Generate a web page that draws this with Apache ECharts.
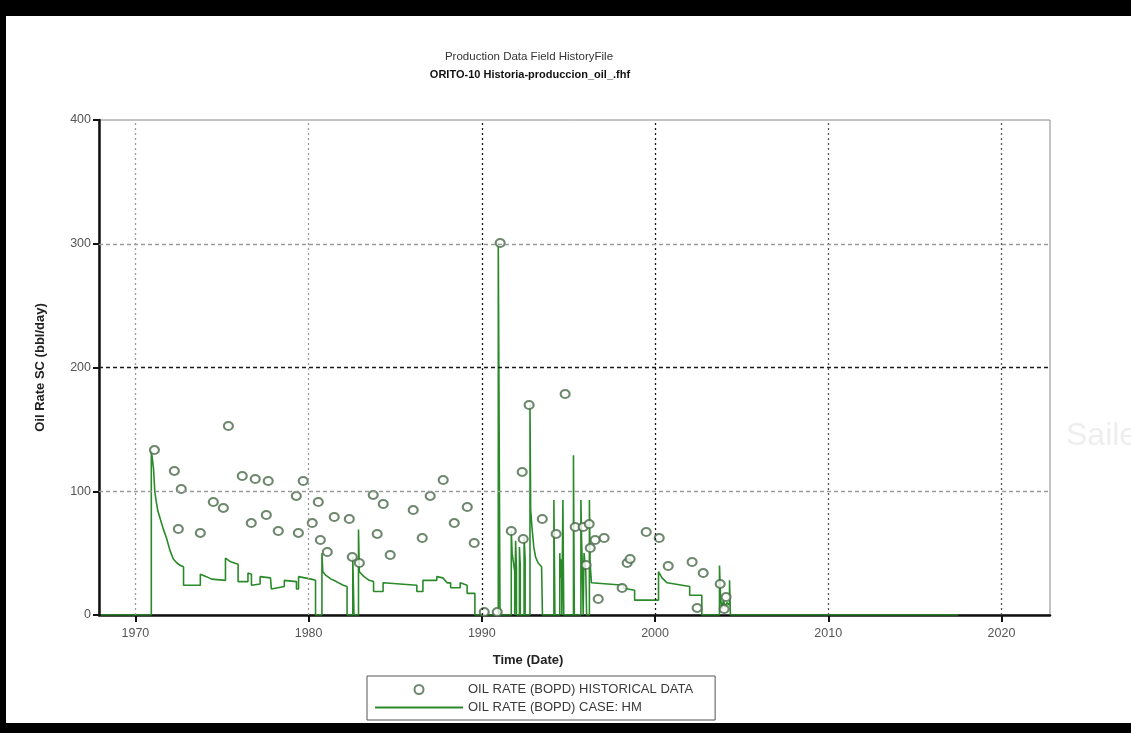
<!DOCTYPE html>
<html>
<head>
<meta charset="utf-8">
<script src="https://cdn.jsdelivr.net/npm/echarts@6/dist/echarts.min.js"></script>
<style>html,body{margin:0;padding:0;background:#fff;}#c{width:1131px;height:733px;}</style>
</head>
<body>
<div id="c"></div>
<script>
// ---- data ----
const xTickValues = [1970, 1980, 1990, 2000, 2010, 2020];
const yGridValues = [100, 200, 300];

const histYears = [1971.1,1972.25,1972.65,1972.48,1973.75,1974.5,1975.08,1975.37,1976.17,1976.92,1977.67,1976.69,1977.56,1978.25,1979.29,1979.69,1979.41,1980.56,1980.21,1980.68,1981.08,1981.48,1982.35,1982.52,1982.93,1983.73,1984.31,1983.96,1984.71,1986.04,1986.56,1987.02,1987.77,1988.41,1989.16,1989.56,1990.14,1990.89,1991.06,1991.7,1992.33,1992.73,1992.39,1993.49,1994.81,1994.29,1995.39,1995.85,1996.2,1996.54,1997.06,1996.26,1996.02,1996.72,1998.1,1998.39,1998.56,1999.49,2000.24,2000.76,2002.14,2002.78,2002.43,2003.76,2004.1,2003.99];
const histRates = [133.3,116.4,101.8,69.5,66.3,91.3,86.5,152.7,112.3,109.9,108.3,74.3,80.8,67.9,96.2,108.3,66.3,91.3,74.3,60.6,50.9,79.2,77.6,46.9,42.0,97.0,89.7,65.5,48.5,84.8,62.2,96.2,109.1,74.3,87.3,58.2,2.4,2.4,300.6,67.9,115.6,169.7,61.4,77.6,178.6,65.5,71.1,71.1,73.5,60.6,62.2,54.1,40.4,12.9,21.8,42.0,45.3,67.1,62.2,39.6,42.8,33.9,5.7,25.1,14.5,4.8];

const simYears = [1968,1970.92,1970.92,1971.02,1971.05,1971.12,1971.2,1971.3,1971.45,1971.6,1971.8,1972.0,1972.2,1972.4,1972.6,1972.78,1972.78,1973.75,1973.75,1974.1,1974.4,1975.2,1975.2,1975.5,1975.93,1975.93,1976.5,1976.5,1976.7,1976.7,1977.2,1977.2,1977.8,1977.85,1978.6,1978.6,1979.3,1979.3,1979.42,1979.42,1980.15,1980.4,1980.4,1980.77,1980.77,1980.82,1980.82,1981.0,1981.3,1981.6,1982.0,1982.22,1982.22,1982.55,1982.55,1982.62,1982.62,1982.88,1982.88,1982.93,1982.93,1983.2,1983.5,1983.75,1983.75,1984.3,1984.3,1986.25,1986.25,1986.6,1986.6,1987.4,1987.4,1987.75,1988.0,1988.2,1988.2,1988.75,1988.75,1989.15,1989.15,1989.6,1989.6,1990.95,1990.95,1991.05,1991.05,1991.7,1991.7,1991.75,1991.85,1991.9,1991.9,1991.95,1991.95,1992.0,1992.0,1992.17,1992.17,1992.22,1992.22,1992.44,1992.44,1992.5,1992.5,1992.78,1992.78,1992.82,1992.9,1993.0,1993.1,1993.25,1993.45,1993.5,1993.5,1994.16,1994.16,1994.22,1994.22,1994.5,1994.5,1994.55,1994.6,1994.62,1994.62,1994.68,1994.68,1994.73,1994.73,1995.29,1995.29,1995.34,1995.34,1995.72,1995.72,1995.76,1995.8,1995.85,1995.85,1995.9,1995.9,1996.0,1996.05,1996.05,1996.21,1996.21,1996.25,1996.33,1998.2,1998.2,1998.82,1998.82,2000.2,2000.2,2000.4,2000.7,2002.0,2002.0,2002.7,2002.7,2003.72,2003.72,2003.78,2003.85,2003.95,2004.05,2004.15,2004.3,2004.3,2004.35,2004.35,2017.5];
const simRates = [0,0,133,133,118,100,92,84,77,70,62,52,45,42,40,39,24,24,33,31,29,28,46,43,41,27,27,34,33,24,25,31,30,21,23,28,27,21,21,31,29,28,0,0,50,50,35,32,29,27,24,23,0,0,47,47,0,0,69,69,35,31,28,27,19,19,26,24,19,19,28,28,31,30,26,26,22,22,26,24,17.5,17.5,0,0,301,301,0,0,68,50,40,35,0,0,60,38,0,0,55,40,0,0,63,45,0,0,170,85,70,55,47,42,39,39,0,0,93,93,0,0,50,30,45,45,0,0,93,93,0,0,129,129,0,0,93,60,40,40,0,0,50,35,35,0,0,93,42,26,24,21.6,20,12,12,35,30,26,23,16,16,0,0,40,15,5,12,6,10,8,28,28,0,0];

const histName = 'OIL RATE (BOPD) HISTORICAL DATA';
const simName = 'OIL RATE (BOPD) CASE: HM';

// ---- build ----
const histData = histYears.map((y, i) => [y, histRates[i]]);
const simData = simYears.map((y, i) => [y, simRates[i]]);

function xGridColor(v) {
  if (v === 1990 || v === 2000) return '#1a1a1a';
  if (v >= 2010) return '#555';
  return '#9a9a9a';
}
function yGridColor(v) { return v === 200 ? '#1a1a1a' : '#9a9a9a'; }

const gridLines = xTickValues.map(v => ({ xAxis: v, lineStyle: { color: xGridColor(v), type: [2, 3], width: 1.3 } }))
  .concat(yGridValues.map(v => ({ yAxis: v, lineStyle: { color: yGridColor(v), type: [4, 3], width: 1.3 } })));

const FONT = "'Liberation Sans', Arial, sans-serif";
const chart = echarts.init(document.getElementById('c'), null, { renderer: 'canvas' });
chart.setOption({
  animation: false,
  backgroundColor: '#fff',
  title: [
    { text: 'Production Data Field HistoryFile', left: 524, top: 46, textAlign: 'center',
      textStyle: { fontSize: 11.5, fontWeight: 'normal', color: '#333', fontFamily: FONT } },
    { text: 'ORITO-10 Historia-produccion_oil_.fhf', left: 525, top: 64, textAlign: 'center',
      textStyle: { fontSize: 11, fontWeight: 'bold', color: '#111', fontFamily: FONT } }
  ],
  legend: {
    data: [
      { name: histName },
      { name: simName, icon: 'path://M0,0H88V2H0Z' }
    ],
    orient: 'vertical',
    left: 367, top: 676,
    itemWidth: 88, itemHeight: 9, itemGap: 5,
    padding: [7, 22, 6, 8],
    borderColor: '#555', borderWidth: 1,
    backgroundColor: '#fff',
    textStyle: { fontSize: 13, color: '#3a3a3a', fontFamily: FONT },
    selectedMode: false
  },
  grid: { left: 99, right: 81, top: 120, bottom: 118, show: true, borderColor: '#888', borderWidth: 1, backgroundColor: 'transparent' },
  xAxis: {
    type: 'value', min: 1967.9, max: 2022.8,
    axisLine: { show: true, onZero: false, lineStyle: { color: '#111', width: 2.5 } },
    axisTick: { show: true, customValues: xTickValues, length: 7, lineStyle: { color: '#111', width: 2 } },
    axisLabel: { customValues: xTickValues, formatter: v => String(v), color: '#555', fontSize: 12.5, margin: 12, fontFamily: FONT },
    splitLine: { show: false }, minorTick: { show: false }
  },
  yAxis: {
    type: 'value', min: 0, max: 400, interval: 100,
    name: 'Oil Rate SC (bbl/day)', nameLocation: 'middle', nameGap: 52, nameRotate: 90,
    nameTextStyle: { fontSize: 13, fontWeight: 'bold', color: '#222', fontFamily: FONT },
    axisLine: { show: true, lineStyle: { color: '#111', width: 2.5 } },
    axisTick: { show: true, length: 6, lineStyle: { color: '#111', width: 2 } },
    axisLabel: { color: '#555', fontSize: 12.5, margin: 8, fontFamily: FONT },
    splitLine: { show: false }
  },
  series: [
    {
      name: 'grid', type: 'line', data: [], z: 1, silent: true,
      markLine: { silent: true, symbol: ['none', 'none'], label: { show: false }, animation: false, data: gridLines }
    },
    {
      name: simName, type: 'line', data: simData, z: 3,
      showSymbol: false, symbol: 'none',
      lineStyle: { color: '#2a8a2a', width: 1.6 },
      itemStyle: { color: '#2a8a2a' }
    },
    {
      name: histName, type: 'scatter', data: histData, z: 4,
      symbol: 'emptyCircle', symbolSize: [9, 8],
      itemStyle: { color: '#4a6a4a', borderWidth: 1 }
    }
  ],
  graphic: [
    { type: 'text', left: 1066, top: 420, silent: true, style: { text: 'Saile', fontSize: 32, fill: '#eeeeee', fontFamily: FONT } },
    { type: 'text', x: 528, y: 660, silent: true, style: { text: 'Time (Date)', fontSize: 13, fontWeight: 'bold', fill: '#222', fontFamily: FONT, align: 'center', verticalAlign: 'middle' } },
    { type: 'rect', left: 0, top: 0, silent: true, shape: { width: 1131, height: 16 }, style: { fill: '#000' } },
    { type: 'rect', left: 0, top: 0, silent: true, shape: { width: 6, height: 733 }, style: { fill: '#000' } },
    { type: 'rect', left: 0, top: 723, silent: true, shape: { width: 1131, height: 10 }, style: { fill: '#000' } }
  ]
});
</script>
</body>
</html>
